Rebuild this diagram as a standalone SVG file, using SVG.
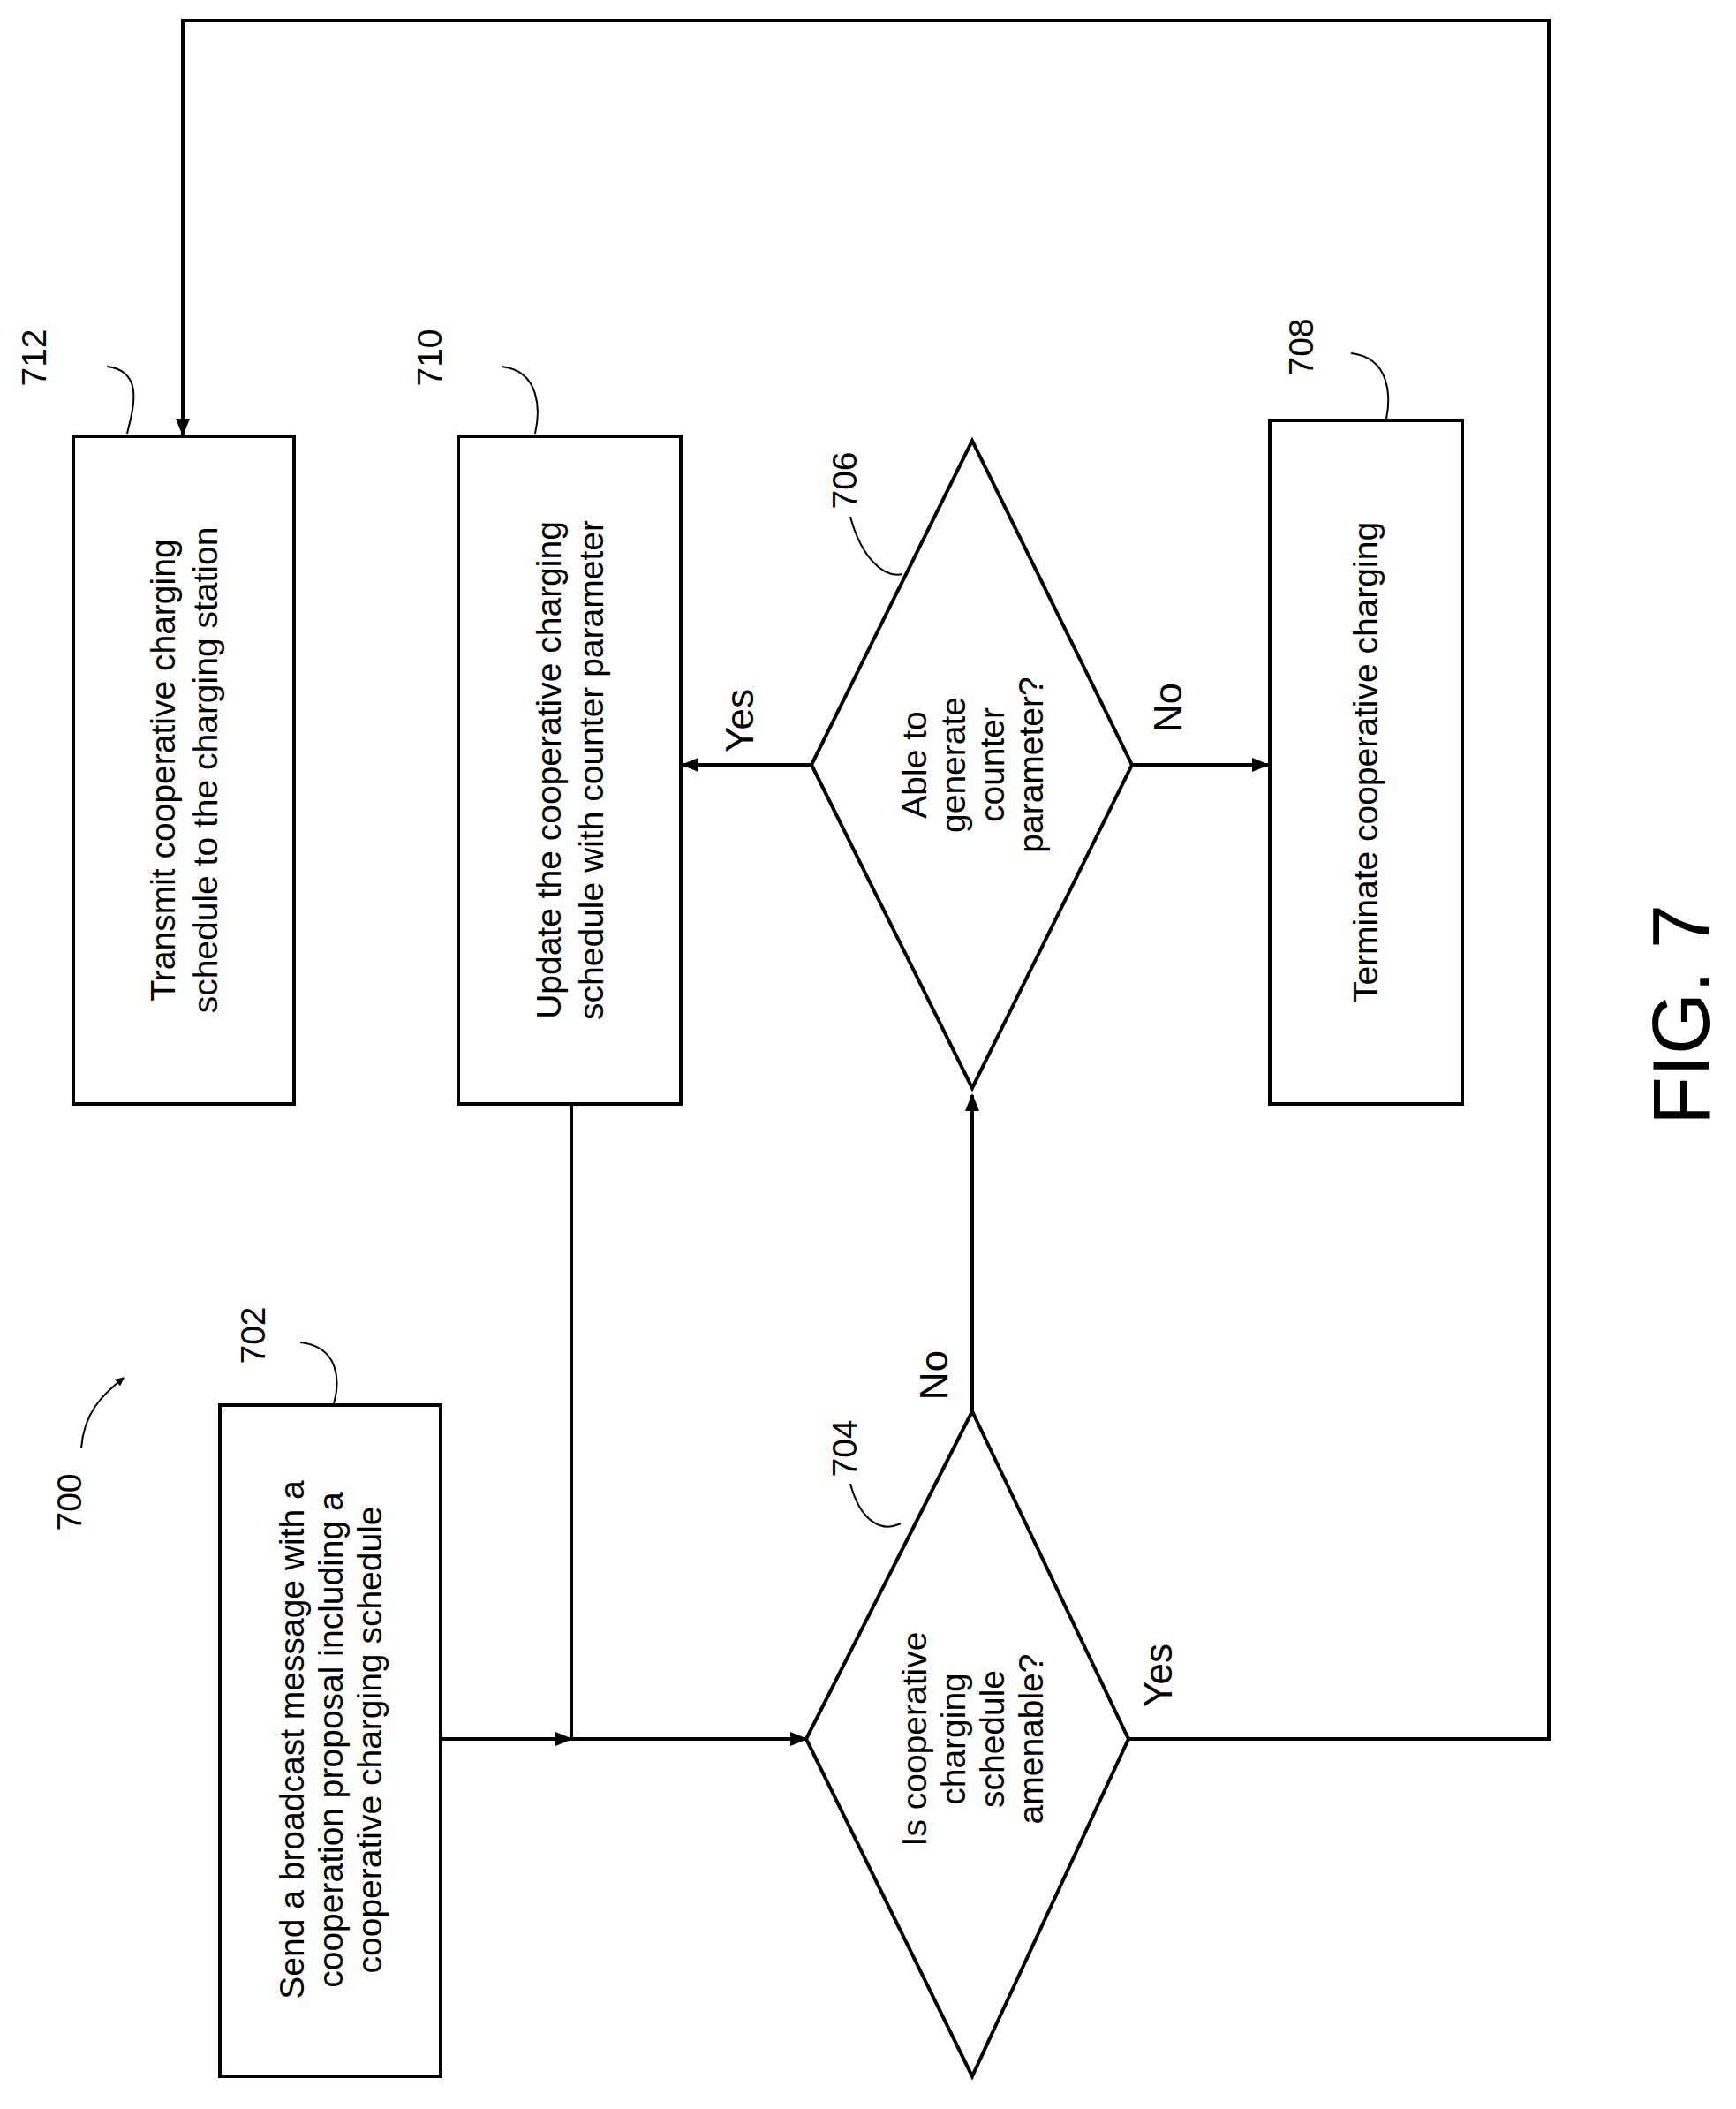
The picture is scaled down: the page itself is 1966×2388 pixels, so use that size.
<svg xmlns="http://www.w3.org/2000/svg" width="1966" height="2388" viewBox="0 0 1966 2388">
<style>
.b{fill:#fff;stroke:#000;stroke-width:4}
.c{fill:none;stroke:#000;stroke-width:4}
.l{fill:none;stroke:#000;stroke-width:2}
text{font-family:"Liberation Sans",Arial,sans-serif;font-size:39px;text-anchor:middle;fill:#000}
.lb{font-size:44px}
</style>
<defs><marker id="a" markerWidth="10" markerHeight="10" refX="9" refY="5" orient="auto" markerUnits="userSpaceOnUse" viewBox="0 0 10 10"><path d="M0,0L10,5L0,10z"/></marker>
<marker id="ah" viewBox="0 0 10 10" refX="9" refY="5" markerWidth="20" markerHeight="20" orient="auto" markerUnits="userSpaceOnUse"><path d="M0,1L10,5L0,9z"/></marker></defs>
<g id="connectors">
<path class="c" d="M499,1969H647" marker-end="url(#ah)"/>
<path class="c" d="M647,1250V1969H913" marker-end="url(#ah)"/>
<path class="c" d="M1101,1598V1240" marker-end="url(#ah)"/>
<path class="c" d="M919,866H773" marker-end="url(#ah)"/>
<path class="c" d="M1282,866H1436" marker-end="url(#ah)"/>
<path class="c" d="M1278,1969H1754V23H207V492" marker-end="url(#ah)"/>
</g>
<g id="n712"><rect class="b" x="83" y="494" width="250" height="756"/>
<text transform="translate(208,872) rotate(-90)"><tspan x="0" y="-10">Transmit cooperative charging</tspan><tspan x="0" y="38">schedule to the charging station</tspan></text>
<text transform="translate(52,405) rotate(-90)">712</text><path class="l" d="M121,415C165,420 150,465 144,491"/></g>
<g id="n710"><rect class="b" x="519" y="494" width="252" height="756"/>
<text transform="translate(645,872) rotate(-90)"><tspan x="0" y="-10">Update the cooperative charging</tspan><tspan x="0" y="38">schedule with counter parameter</tspan></text>
<text transform="translate(500,405) rotate(-90)">710</text><path class="l" d="M568,415C612,420 612,465 606,491"/></g>
<g id="n708"><rect class="b" x="1438" y="476" width="218" height="774"/>
<text transform="translate(1560,863) rotate(-90)">Terminate cooperative charging</text>
<text transform="translate(1487,393) rotate(-90)">708</text><path class="l" d="M1530,400C1575,405 1575,450 1570,474"/></g>
<g id="n702"><rect class="b" x="249" y="1591" width="250" height="760"/>
<text transform="translate(374,1970) rotate(-90)"><tspan x="0" y="-30">Send a broadcast message with a</tspan><tspan x="0" y="14">cooperation proposal including a</tspan><tspan x="0" y="58">cooperative charging schedule</tspan></text>
<text transform="translate(300,1512) rotate(-90)">702</text><path class="l" d="M340,1520C385,1525 385,1565 378,1589"/></g>
<g id="n704"><path class="b" d="M913,1969L1101,1598L1278,1969L1101,2351Z"/>
<text transform="translate(1101,1969) rotate(-90)"><tspan x="0" y="-52">Is cooperative</tspan><tspan x="0" y="-8">charging</tspan><tspan x="0" y="36">schedule</tspan><tspan x="0" y="80">amenable?</tspan></text>
<text transform="translate(970,1640) rotate(-90)">704</text><path class="l" d="M963,1680C975,1725 1000,1735 1020,1725"/></g>
<g id="n706"><path class="b" d="M919,866L1101,499L1282,866L1101,1232Z"/>
<text transform="translate(1101,866) rotate(-90)"><tspan x="0" y="-52">Able to</tspan><tspan x="0" y="-8">generate</tspan><tspan x="0" y="36">counter</tspan><tspan x="0" y="80">parameter?</tspan></text>
<text transform="translate(970,544) rotate(-90)">706</text><path class="l" d="M963,585C975,630 1000,655 1022,650"/></g>
<g id="labels">
<text class="lb" transform="translate(853,816) rotate(-90)">Yes</text>
<text class="lb" transform="translate(1338,801) rotate(-90)">No</text>
<text class="lb" transform="translate(1073,1557) rotate(-90)">No</text>
<text class="lb" transform="translate(1327,1897) rotate(-90)">Yes</text>
<text transform="translate(1935,1149) rotate(-90)" style="font-size:90px">FIG. 7</text>
<text transform="translate(92,1701) rotate(-90)">700</text>
<path class="l" d="M92,1640C95,1600 115,1580 140,1560" marker-end="url(#a)"/>
</g>
</svg>
